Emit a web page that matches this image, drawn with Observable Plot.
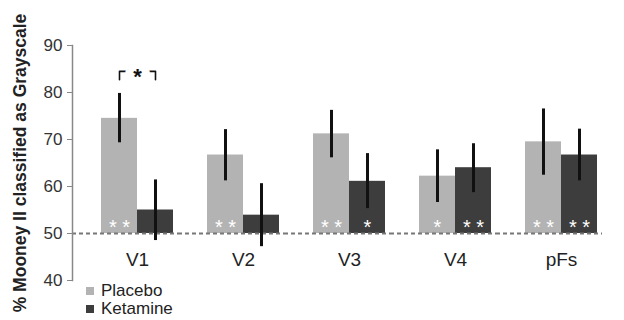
<!DOCTYPE html>
<html><head><meta charset="utf-8">
<script src="https://cdn.jsdelivr.net/npm/d3@7"></script>
<script src="https://cdn.jsdelivr.net/npm/@observablehq/plot@0.6"></script>
<style>
body{margin:0;background:#fff;font-family:"Liberation Sans",Arial,sans-serif;}
#wrap{position:relative;width:624px;height:320px;}
#chart svg{display:block;}
#legend{position:absolute;top:282px;left:86px;font-size:17px;color:#222;line-height:18px;}
.item{display:flex;align-items:center;}
.sw{width:8px;height:8px;margin-right:7px;}
</style></head><body><div id="wrap"><div id="chart"></div><div id="legend"></div></div>
<script>
const groups = ["V1","V2","V3","V4","pFs"];
const conditions = ["Placebo","Ketamine"];
const colors = ["#b3b3b3","#3d3d3d"];
const placeboMean = [74.5,66.7,71.2,62.2,69.5];
const placeboLo   = [69.3,61.2,66.1,56.6,62.4];
const placeboHi   = [79.8,72.1,76.2,67.8,76.5];
const ketamineMean = [55.0,53.9,61.1,64.0,66.7];
const ketamineLo   = [48.5,47.2,55.3,58.7,61.2];
const ketamineHi   = [61.4,60.6,67.0,69.1,72.2];
const placeboStars  = ["**","**","**","*","**"];
const ketamineStars = ["","","*","**","**"];
const chance = 50;
const yTicks = [40,50,60,70,80,90];
const yLabel = "% Mooney II classified as Grayscale";
const comparison = {group:"V1", text:"*", level:84.5, tick:82.7};

const rows = [];
groups.forEach((g,i)=>{
  rows.push({group:g, condition:"Placebo", mean:placeboMean[i], lo:placeboLo[i], hi:placeboHi[i], stars:placeboStars[i]});
  rows.push({group:g, condition:"Ketamine", mean:ketamineMean[i], lo:ketamineLo[i], hi:ketamineHi[i], stars:ketamineStars[i]});
});
const bracket = [
  {group:comparison.group, condition:"Placebo", y:comparison.tick},
  {group:comparison.group, condition:"Placebo", y:comparison.level},
  {group:comparison.group, condition:"Ketamine", y:comparison.level},
  {group:comparison.group, condition:"Ketamine", y:comparison.tick}
];

const chart = Plot.plot({
  width: 624, height: 320,
  marginLeft: 72, marginRight: 4, marginTop: 45, marginBottom: 40,
  style: {fontFamily: '"Liberation Sans", Arial, sans-serif', background: "#fff"},
  fx: {domain: groups, paddingInner: 0, paddingOuter: 0.0655, align: 0, axis: null, label: null},
  x: {domain: conditions, paddingInner: 0, paddingOuter: 0.455, align: 0.86, axis: null, label: null},
  y: {domain: [40, 90], axis: null},
  color: {domain: conditions, range: colors},
  marks: [
    Plot.barY(rows, {fx:"group", x:"condition", y1: chance, y2:"mean", fill:"condition"}),
    Plot.ruleY([chance], {stroke:"#777", strokeWidth:2, strokeDasharray:"4,3"}),
    Plot.ruleX(rows, {fx:"group", x:"condition", y1:"lo", y2:"hi", stroke:"#111", strokeWidth:3}),
    Plot.text(rows, {fx:"group", x:"condition", y: chance, text: d => d.stars.split("").join(" "), fill:"white", fontSize:20, dy:-6}),
    Plot.line(bracket, {fx:"group", x:"condition", y:"y", stroke:"#111", strokeWidth:1.6}),
    Plot.text([comparison], {fx:"group", y:"level", text:"text", dx:12, dy:6, fontSize:22, fontWeight:"bold", fill:"#111", stroke:"white", strokeWidth:16}),
    Plot.text(groups, {fx: d=>d, text: d=>d, frameAnchor:"bottom", dy:-15, dx:12, fontSize:19, fill:"#222"}),
    Plot.frame({anchor:"left", stroke:"#888", strokeWidth:1.5, facetAnchor:"left"}),
    Plot.axisY({ticks: yTicks, tickSize:5, tickPadding:5, stroke:"#888", fill:"#333", fontSize:17, label: null}),
    Plot.text([yLabel], {frameAnchor:"left", textAnchor:"middle", rotate:-90, dx:-52, fontSize:17.5, fontWeight:"bold", fill:"#222", facetAnchor:"left"})
  ]
});
document.getElementById("chart").appendChild(chart);

const legend = d3.select("#legend");
conditions.forEach((c,i)=>{
  const it = legend.append("div").attr("class","item");
  it.append("div").attr("class","sw").style("background",colors[i]);
  it.append("span").text(c);
});
</script></body></html>
